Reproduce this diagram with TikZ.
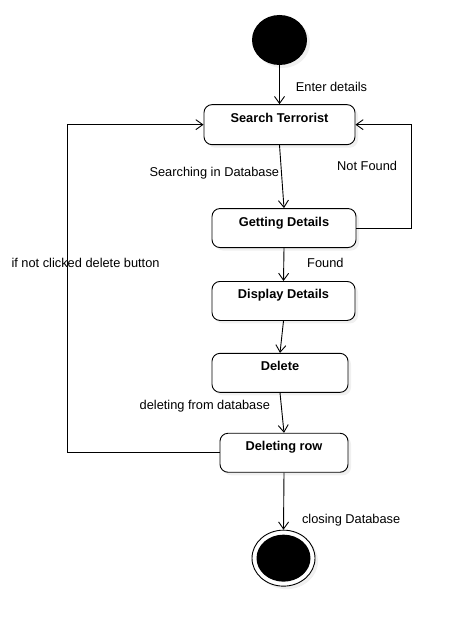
\documentclass[tikz,border=0pt]{standalone}
\usepackage{fontspec}
\setmainfont{Liberation Sans}
\usepackage{tikz}
\usetikzlibrary{positioning}
\usetikzlibrary{shapes.geometric}
\usetikzlibrary{arrows.meta}
\usetikzlibrary{shadows}
\begin{document}
\begin{tikzpicture}[x=1pt, y=-1pt]
      \tikzstyle{activity} = [draw, fill=white, rounded corners=8pt, line width=0.9pt, inner ysep=0pt, text height=17.5pt, text depth=21.5pt, font=\fontsize{12.8}{15}\selectfont\bfseries, drop shadow={shadow xshift=3pt, shadow yshift=-3pt, opacity=0.12}]
      \tikzstyle{flow} = [line width=0.9pt, -{Straight Barb[length=7pt, width=10pt]}]
      \tikzstyle{lbl} = [inner sep=2pt, font=\fontsize{12.8}{15}\selectfont]

      \useasboundingbox (0,0) rectangle (452,626);

      \node (start) [ellipse, fill=black, minimum width=55pt, minimum height=50pt, drop shadow={shadow xshift=3pt, shadow yshift=-3pt, opacity=0.12}] at (279.5,40) {};

      \node (search) [activity, minimum width=151pt, minimum height=40pt, below = 39pt of start] {Search Terrorist};
      \node (getting) [activity, minimum width=144pt, below = 63pt of search, xshift=4.5pt] {Getting Details};
      \node (display) [activity, minimum width=143pt, below = 33pt of getting, xshift=-0.5pt] {Display Details};
      \node (delete) [activity, minimum width=136pt, below = 32pt of display, xshift=-3.5pt] {Delete};
      \node (delrow) [activity, minimum width=128pt, below = 40pt of delete, xshift=4pt] {Deleting row};

      \node (finish) [ellipse, draw, fill=white, line width=0.9pt, minimum width=63pt, minimum height=56pt, below = 57pt of delrow, xshift=-0.5pt, drop shadow={shadow xshift=3pt, shadow yshift=-3pt, opacity=0.12}] {};
      \node (finishdot) [ellipse, fill=black, minimum width=54pt, minimum height=47pt] at (finish.center) {};

      \draw[flow] (start.south) -- node[lbl, anchor=west, pos=0.55, xshift=14pt] {Enter details} (search.north);
      \draw[flow] (search.south) -- node[lbl, anchor=east, pos=0.45] {Searching in Database} (getting.north);
      \draw[flow] (getting.south) -- node[lbl, anchor=west, pos=0.44, xshift=21pt] {Found} (display.north);
      \draw[flow] (display.south) -- (delete.north);
      \draw[flow] (delete.south) -- node[lbl, anchor=east, pos=0.34, xshift=-9pt] {deleting from database} (delrow.north);
      \draw[flow] (delrow.south) -- node[lbl, anchor=west, pos=0.84, xshift=16pt] {closing Database} (finish.north);

      \draw[flow] (getting.east) -- ++(55,0) |- node[lbl, anchor=east, pos=0.30, xshift=-12pt] {Not Found} (search.east);
      \draw[flow] (delrow.west) -- ++(-152,0) |- node[lbl, pos=0.29, xshift=18pt] {if not clicked delete button} (search.west);
    \end{tikzpicture}
\end{document}
